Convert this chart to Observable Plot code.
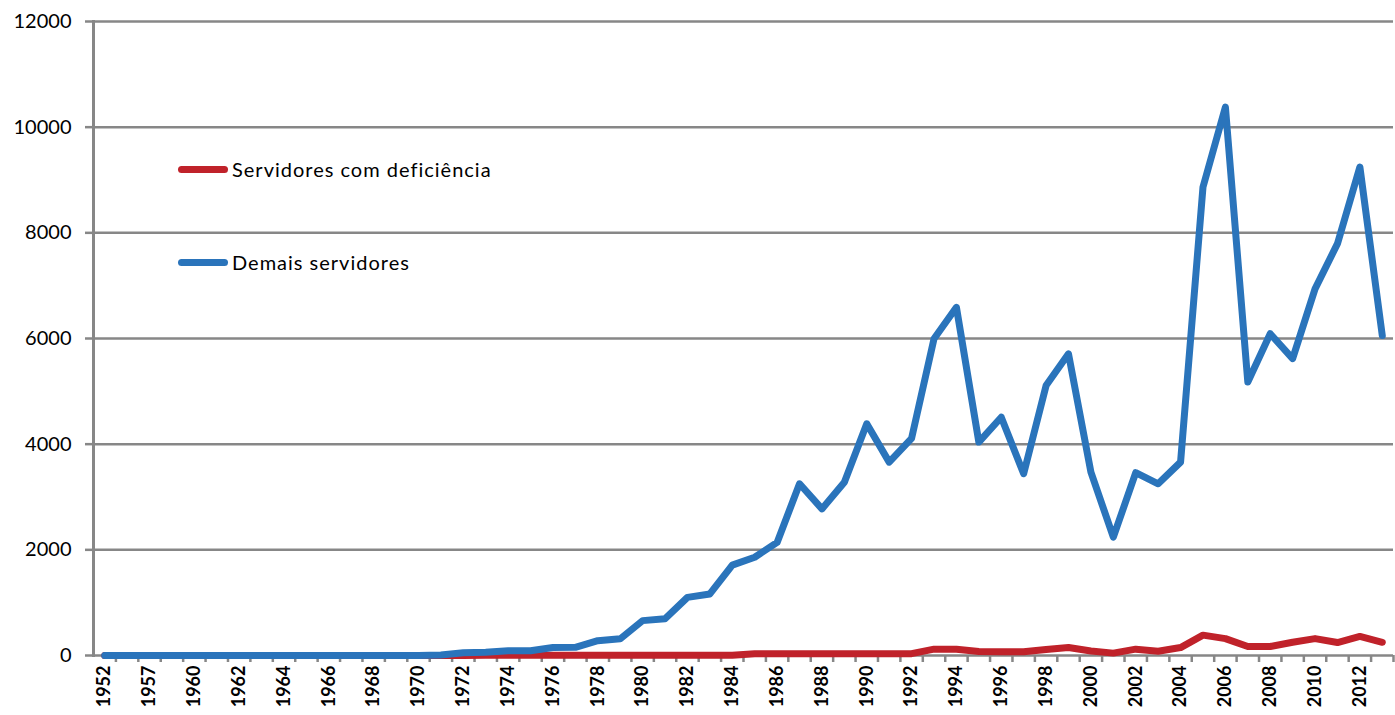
<!DOCTYPE html>
<html><head><meta charset="utf-8">
<script src="https://cdn.jsdelivr.net/npm/d3@7"></script>
<script src="https://cdn.jsdelivr.net/npm/@observablehq/plot@0.6"></script>
<style>
body{margin:0;background:#fff;}
#wrap{position:relative;width:1395px;height:715px;overflow:hidden;}
.legend{position:absolute;left:178px;height:24px;font-family:Lato,sans-serif;font-size:20px;letter-spacing:1px;color:#000;display:flex;align-items:center;white-space:nowrap;}
.legend .sw{width:50px;height:7px;border-radius:4px;margin-right:4px;}
</style></head><body>
<div id="wrap"></div>
<script>
const years = ["1952","1955","1957","1958",
  "1960","1961","1962","1963","1964","1965","1966","1967","1968","1969",
  "1970","1971","1972","1973","1974","1975","1976","1977","1978","1979",
  "1980","1981","1982","1983","1984","1985","1986","1987","1988","1989",
  "1990","1991","1992","1993","1994","1995","1996","1997","1998","1999",
  "2000","2001","2002","2003","2004","2005","2006","2007","2008","2009",
  "2010","2011","2012","2013"];
const demais = [0,0,0,0,
  0,0,0,0,0,0,0,0,0,0,
  0,10,50,60,90,90,150,155,280,315,
  660,695,1100,1165,1710,1860,2140,3250,2775,3280,
  4385,3660,4110,5995,6590,4040,4510,3440,5110,5710,
  3470,2240,3460,3250,3660,8865,10380,5175,6090,5620,
  6940,7795,9245,6055];
const deficiencia = [0,0,0,0,
  0,0,0,0,0,0,0,0,0,0,
  0,0,0,5,5,5,5,5,5,5,
  5,5,5,5,5,35,35,35,35,35,
  35,35,35,120,120,75,70,70,115,150,
  85,45,120,80,150,385,320,170,170,250,
  320,245,360,250];
const seriesNames = ["Servidores com deficiência","Demais servidores"];
const seriesColors = ["#c0222a","#2a74bb"];
const yTicks = [0,2000,4000,6000,8000,10000,12000];

const W = 1395, H = 715;
const M = {top:21, right:2, bottom:60, left:93};

// category index positions (categories are centred between boundary ticks)
const idx = years.map((y,i) => i);
const rows = [
  ...years.map((y,i) => ({i, year:y, value:deficiencia[i], serie:seriesNames[0]})),
  ...years.map((y,i) => ({i, year:y, value:demais[i], serie:seriesNames[1]}))
];
const gray = "#878787";

const chart = Plot.plot({
  width: W, height: H,
  marginTop: M.top, marginRight: M.right, marginBottom: M.bottom, marginLeft: M.left,
  style: {fontFamily: "Lato, sans-serif", background: "#fff"},
  x: {type: "linear", domain: [-0.5, years.length - 0.5]},
  y: {domain: [0, 12000]},
  color: {domain: seriesNames, range: seriesColors},
  marks: [
    Plot.gridY(yTicks.slice(1), {stroke: gray, strokeOpacity: 1, strokeWidth: 2.5}),
    Plot.ruleY([0], {stroke: gray, strokeWidth: 2.5}),
    Plot.frame({anchor: "left", stroke: gray, strokeWidth: 3}),
    Plot.axisY(yTicks, {tickSize: 8, tickPadding: 14, stroke: gray, strokeWidth: 2.5,
      fill: "#000", fontSize: 20, tickFormat: d => String(d), label: null}),
    Plot.axisX(idx.filter(i => i % 2 === 0), {tickSize: 0, tickRotate: -90, tickPadding: 10,
      tickFormat: i => years[i], fontWeight: "bold", fontSize: 18, fill: "#000", label: null}),
    Plot.axisX(idx.map(i => i + 0.5), {tickSize: 7, tickFormat: () => "", stroke: gray, strokeWidth: 2.5, label: null}),
    Plot.line(rows, {x: "i", y: "value", stroke: "serie", z: "serie", strokeWidth: 7,
      strokeLinejoin: "round", strokeLinecap: "round"})
  ]
});
const wrap = document.getElementById("wrap");
wrap.appendChild(chart);
const legendY = [169, 262];
seriesNames.forEach((n,i) => {
  const d = document.createElement("div");
  d.className = "legend";
  d.style.top = (legendY[i] - 12) + "px";
  d.innerHTML = `<span class="sw" style="background:${seriesColors[i]}"></span><span>${n}</span>`;
  wrap.appendChild(d);
});
</script>
</body></html>
